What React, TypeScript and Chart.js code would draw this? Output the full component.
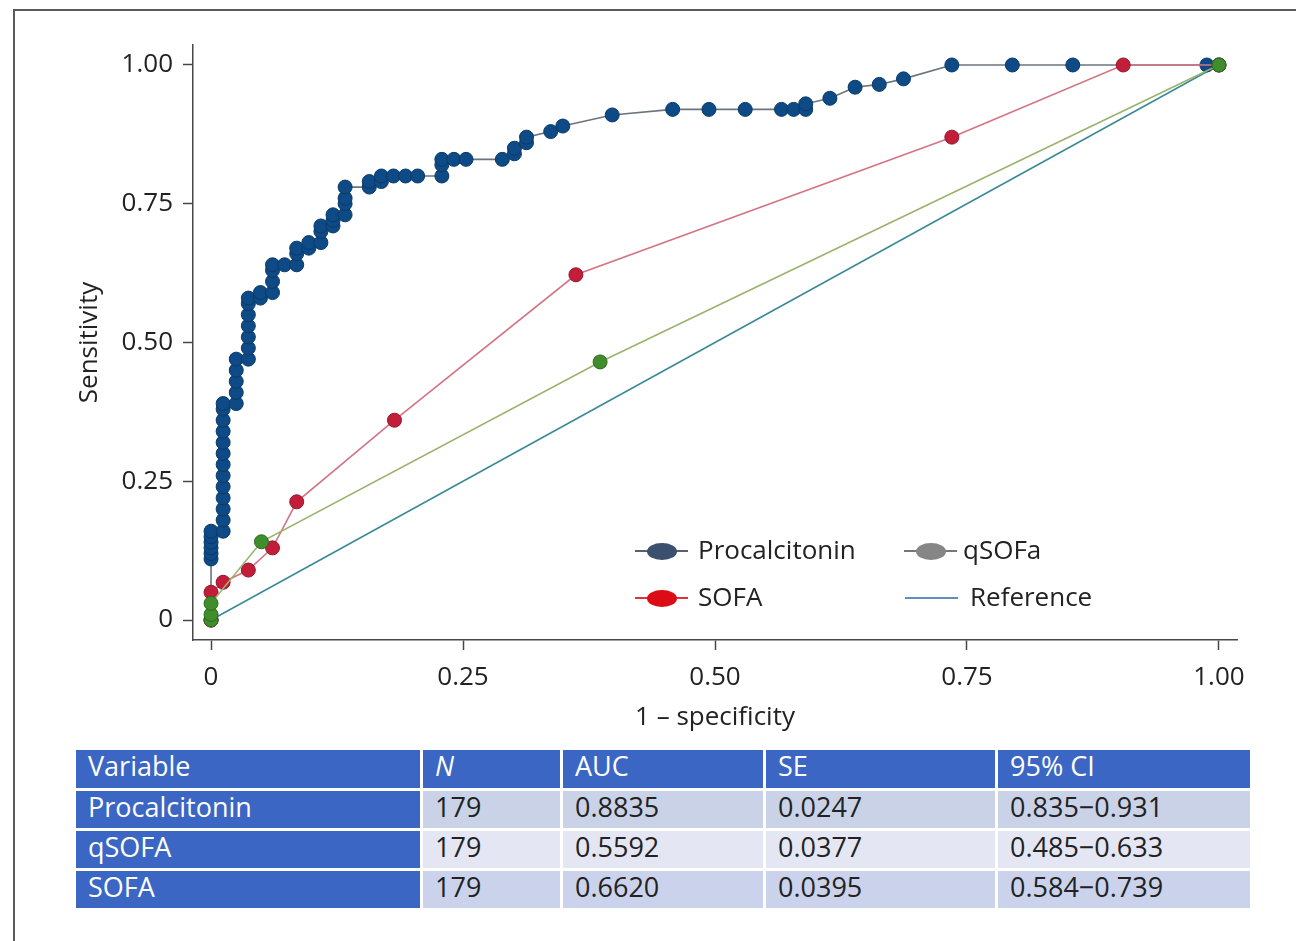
import React, { useEffect, useRef } from 'react';
import { Chart, registerables } from 'chart.js';

Chart.register(...registerables);

// ---------- Data ----------
const pctFpr = [
  0,
  0, 0, 0, 0, 0, 0,
  0.012, 0.012, 0.012, 0.012, 0.012, 0.012, 0.012, 0.012, 0.012, 0.012, 0.012, 0.012, 0.012,
  0.025, 0.025, 0.025, 0.025, 0.025,
  0.037, 0.037, 0.037, 0.037, 0.037, 0.037, 0.037,
  0.049, 0.049,
  0.061, 0.061, 0.061, 0.061,
  0.073,
  0.085, 0.085, 0.085,
  0.097, 0.097,
  0.109, 0.109, 0.109,
  0.121, 0.121, 0.121,
  0.133, 0.133, 0.133, 0.133,
  0.157, 0.157,
  0.169, 0.169,
  0.181,
  0.193,
  0.205,
  0.229, 0.229, 0.229,
  0.241,
  0.253,
  0.289,
  0.301, 0.301,
  0.313, 0.313,
  0.337,
  0.349,
  0.398,
  0.458,
  0.494,
  0.530,
  0.566,
  0.578,
  0.590, 0.590,
  0.614,
  0.639,
  0.663,
  0.687,
  0.735,
  0.795,
  0.855,
  0.988,
  1,
];
const pctSens = [
  0,
  0.11, 0.12, 0.13, 0.14, 0.15, 0.16,
  0.16, 0.18, 0.2, 0.22, 0.24, 0.26, 0.28, 0.3, 0.32, 0.34, 0.36, 0.38, 0.39,
  0.39, 0.41, 0.43, 0.45, 0.47,
  0.47, 0.49, 0.51, 0.53, 0.55, 0.57, 0.58,
  0.58, 0.59,
  0.59, 0.61, 0.63, 0.64,
  0.64,
  0.64, 0.66, 0.67,
  0.67, 0.68,
  0.68, 0.7, 0.71,
  0.71, 0.72, 0.73,
  0.73, 0.75, 0.76, 0.78,
  0.78, 0.79,
  0.79, 0.8,
  0.8,
  0.8,
  0.8,
  0.8, 0.82, 0.83,
  0.83,
  0.83,
  0.83,
  0.84, 0.85,
  0.86, 0.87,
  0.88,
  0.89,
  0.91,
  0.92,
  0.92,
  0.92,
  0.92,
  0.92,
  0.92, 0.93,
  0.94,
  0.96,
  0.965,
  0.975,
  1,
  1,
  1,
  1,
  1,
];

const sofaFpr = [0, 0, 0.012, 0.037, 0.061, 0.085, 0.182, 0.362, 0.735, 0.905, 1];
const sofaSens = [0, 0.05, 0.068, 0.09, 0.13, 0.213, 0.36, 0.622, 0.87, 1, 1];

const qsofaFpr = [0, 0, 0, 0.05, 0.386, 1];
const qsofaSens = [0, 0.01, 0.03, 0.141, 0.465, 1];

const refFpr = [0, 1];
const refSens = [0, 1];

const tickValues = [0, 0.25, 0.5, 0.75, 1];
const tickLabels = ['0', '0.25', '0.50', '0.75', '1.00'];

const legendLabels = ['Procalcitonin', 'qSOFa', 'SOFA', 'Reference'];

const tableHeader = ['Variable', 'N', 'AUC', 'SE', '95% CI'];
const tableVariables = ['Procalcitonin', 'qSOFA', 'SOFA'];
const tableN = ['179', '179', '179'];
const tableAUC = ['0.8835', '0.5592', '0.6620'];
const tableSE = ['0.0247', '0.0377', '0.0395'];
const tableCI = ['0.835\u22120.931', '0.485\u22120.633', '0.584\u22120.739'];

// ---------- Styling ----------
const FONT = "'Open Sans', 'Noto Sans', sans-serif";
const TEXT = '#222222';
const AXIS = '#474747';

const toXY = (xs: number[], ys: number[]) => xs.map((x, i) => ({ x, y: ys[i] }));

function RocChart() {
  const ref = useRef<HTMLCanvasElement | null>(null);
  useEffect(() => {
    if (!ref.current) return;
    const chart = new Chart(ref.current, {
      type: 'scatter',
      data: {
        datasets: [
          {
            label: 'qSOFa',
            data: toXY(qsofaFpr, qsofaSens),
            showLine: true,
            borderColor: '#9ab36c',
            borderWidth: 1.6,
            pointRadius: 7,
            pointBackgroundColor: '#3f8d2b',
            pointBorderColor: '#2f6a20',
            pointBorderWidth: 1,
            order: 0,
          },
          {
            label: 'SOFA',
            data: toXY(sofaFpr, sofaSens),
            showLine: true,
            borderColor: '#d47482',
            borderWidth: 1.6,
            pointRadius: 7,
            pointBackgroundColor: '#c41d3a',
            pointBorderColor: '#8c1a2c',
            pointBorderWidth: 1,
            order: 1,
          },
          {
            label: 'Procalcitonin',
            data: toXY(pctFpr, pctSens),
            showLine: true,
            borderColor: '#6b747c',
            borderWidth: 1.6,
            pointRadius: 7,
            pointBackgroundColor: '#0e4a86',
            pointBorderColor: '#0a3a68',
            pointBorderWidth: 1,
            order: 2,
          },
          {
            label: 'Reference',
            data: toXY(refFpr, refSens),
            showLine: true,
            borderColor: '#3a8a98',
            borderWidth: 1.6,
            pointRadius: 0,
            order: 3,
          },
        ],
      },
      options: {
        responsive: false,
        animation: false,
        devicePixelRatio: 1,
        layout: { padding: { left: 74, top: 45, right: 59, bottom: 0 } },
        plugins: { legend: { display: false }, tooltip: { enabled: false } },
        elements: { line: { tension: 0 } },
        scales: {
          x: {
            type: 'linear',
            min: -0.0179,
            max: 1.0179,
            afterFit: (s: any) => {
              s.height = 93;
            },
            afterBuildTicks: (s: any) => {
              s.ticks = tickValues.map((v) => ({ value: v }));
            },
            ticks: {
              callback: (_v: any, i: number) => tickLabels[i],
              font: { size: 26, family: FONT },
              color: TEXT,
              padding: 12,
              maxRotation: 0,
              autoSkip: false,
            },
            grid: { drawOnChartArea: false, tickLength: 10, tickColor: AXIS, tickWidth: 1.5 },
            border: { color: AXIS, width: 1.5 },
            title: {
              display: true,
              text: '1 \u2013 specificity',
              font: { size: 26, family: FONT },
              color: TEXT,
              padding: 0,
            },
          },
          y: {
            type: 'linear',
            min: -0.036,
            max: 1.036,
            afterFit: (s: any) => {
              s.width = 119;
            },
            afterBuildTicks: (s: any) => {
              s.ticks = tickValues.map((v) => ({ value: v }));
            },
            ticks: {
              callback: (_v: any, i: number) => tickLabels[i],
              font: { size: 26, family: FONT },
              color: TEXT,
              padding: 10,
              autoSkip: false,
            },
            grid: { drawOnChartArea: false, tickLength: 10, tickColor: AXIS, tickWidth: 1.5 },
            border: { color: AXIS, width: 1.5 },
            title: {
              display: true,
              text: 'Sensitivity',
              font: { size: 26, family: FONT },
              color: TEXT,
              padding: 0,
            },
          },
        },
      },
    } as any);
    return () => chart.destroy();
  }, []);
  return (
    <canvas
      ref={ref}
      width={1296}
      height={733}
      style={{ position: 'absolute', left: 0, top: 0, width: 1296, height: 733 }}
    />
  );
}

function LegendItem(props: {
  left: number;
  top: number;
  label: string;
  lineColor: string;
  dotColor?: string;
  textLeft: number;
}) {
  const { left, top, label, lineColor, dotColor, textLeft } = props;
  return (
    <>
      <div
        style={{
          position: 'absolute',
          left,
          top: top - 1,
          width: 53,
          height: 2,
          background: lineColor,
        }}
      />
      {dotColor && (
        <div
          style={{
            position: 'absolute',
            left: left + 12,
            top: top - 8.5,
            width: 30,
            height: 17,
            borderRadius: '50%',
            background: dotColor,
          }}
        />
      )}
      <div
        style={{
          position: 'absolute',
          left: textLeft,
          top: top - 20,
          height: 36,
          lineHeight: '36px',
          fontSize: 26,
          fontFamily: FONT,
          color: TEXT,
          whiteSpace: 'nowrap',
        }}
      >
        {label}
      </div>
    </>
  );
}

const colLefts = [76, 423, 563, 766, 998];
const colWidths = [344, 137, 200, 229, 252];
const rowTops = [750, 791, 831, 871];
const rowHeights = [38, 37, 37, 37];
const HEADER_BLUE = '#3b66c4';
const rowBg = ['#c9d2e7', '#e4e7f3', '#cbd2ec'];

function Table() {
  const rows = tableVariables.map((v, i) => [v, tableN[i], tableAUC[i], tableSE[i], tableCI[i]]);
  const cells: React.ReactNode[] = [];
  const cell = (key: string, r: number, c: number, text: string, bg: string, color: string, italic = false) => (
    <div
      key={key}
      style={{
        position: 'absolute',
        left: colLefts[c],
        top: rowTops[r],
        width: colWidths[c],
        height: rowHeights[r],
        background: bg,
        color,
        fontFamily: FONT,
        fontSize: 27,
        lineHeight: rowHeights[r] - 6 + 'px',
        paddingLeft: 12,
        boxSizing: 'border-box',
        fontStyle: italic ? 'italic' : 'normal',
        whiteSpace: 'nowrap',
        overflow: 'hidden',
      }}
    >
      {text}
    </div>
  );
  tableHeader.forEach((h, c) => cells.push(cell('h' + c, 0, c, h, HEADER_BLUE, '#ffffff', h === 'N')));
  rows.forEach((row, r) =>
    row.forEach((t, c) =>
      cells.push(
        cell('r' + r + 'c' + c, r + 1, c, t, c === 0 ? HEADER_BLUE : rowBg[r], c === 0 ? '#ffffff' : TEXT)
      )
    )
  );
  return <>{cells}</>;
}

export default function App() {
  useEffect(() => {
    document.body.style.overflow = 'hidden';
  }, []);
  return (
    <div
      style={{
        position: 'absolute',
        left: 0,
        top: 0,
        width: 1296,
        height: 941,
        overflow: 'hidden',
        background: '#ffffff',
      }}
    >
      <div
        style={{
          position: 'absolute',
          left: 13,
          top: 9,
          width: 1400,
          height: 1100,
          borderLeft: '2px solid #5a5a5a',
          borderTop: '2px solid #5a5a5a',
        }}
      />
      <RocChart />
      <LegendItem left={635} top={551} label={legendLabels[0]} lineColor="#56606c" dotColor="#3b4f6e" textLeft={698} />
      <LegendItem left={904} top={551} label={legendLabels[1]} lineColor="#777777" dotColor="#868686" textLeft={963} />
      <LegendItem left={635} top={598} label={legendLabels[2]} lineColor="#e0303a" dotColor="#dc0c16" textLeft={698} />
      <LegendItem left={905} top={598} label={legendLabels[3]} lineColor="#5d8fc0" textLeft={970} />
      <Table />
    </div>
  );
}
